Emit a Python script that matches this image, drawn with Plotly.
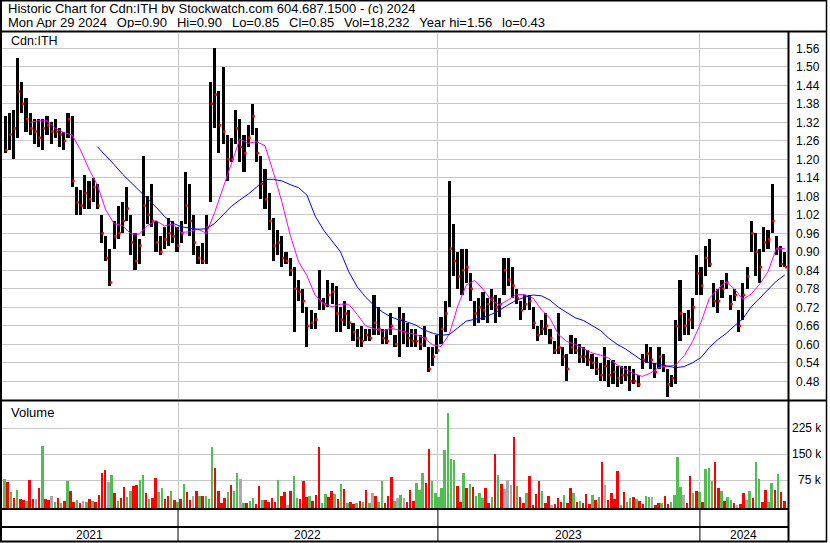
import plotly.graph_objects as go

W, H = 830, 543
FONT = "Liberation Sans, Arial, Helvetica, sans-serif"

# ---------------- text ----------------
header_line1 = "Historic Chart for Cdn:ITH by Stockwatch.com 604.687.1500 - (c) 2024"
header_fields = ["Mon Apr 29 2024", "Op=0.90", "Hi=0.90", "Lo=0.85", "Cl=0.85",
                 "Vol=18,232", "Year hi=1.56", "lo=0.43"]
symbol_label = "Cdn:ITH"
volume_label = "Volume"

# ---------------- price data (one bar = 4 trading days) ----------------
BUCKET_DAYS = 4
price_high = [
    1.34, 1.35, 1.36, 1.53, 1.45, 1.40, 1.35, 1.33, 1.33, 1.33,
    1.34, 1.32, 1.33, 1.30, 1.29, 1.35, 1.34, 1.11, 1.10, 1.15,
    1.13, 1.14, 1.12, 1.02, 0.95, 0.91, 1.00, 1.05, 1.06, 1.11,
    1.02, 0.96, 0.94, 1.21, 1.08, 1.12, 1.00, 0.95, 0.98, 1.01,
    1.00, 0.98, 1.00, 1.16, 1.12, 1.02, 0.92, 0.93, 1.02, 1.45,
    1.56, 1.42, 1.50, 1.28, 1.27, 1.36, 1.33, 1.28, 1.31, 1.38,
    1.30, 1.21, 1.17, 1.09, 1.01, 0.97, 0.95, 0.90, 0.88, 0.85,
    0.81, 0.78, 0.72, 0.71, 0.70, 0.84, 0.75, 0.81, 0.80, 0.79,
    0.72, 0.74, 0.71, 0.67, 0.65, 0.66, 0.65, 0.65, 0.76, 0.72,
    0.65, 0.65, 0.70, 0.63, 0.72, 0.70, 0.67, 0.65, 0.65, 0.63,
    0.66, 0.59, 0.59, 0.63, 0.69, 0.74, 1.13, 0.99, 0.90, 0.91,
    0.91, 0.83, 0.74, 0.75, 0.77, 0.75, 0.78, 0.76, 0.75, 0.88,
    0.88, 0.85, 0.78, 0.74, 0.76, 0.76, 0.72, 0.66, 0.68, 0.70,
    0.65, 0.61, 0.70, 0.59, 0.57, 0.63, 0.62, 0.60, 0.59, 0.58,
    0.57, 0.56, 0.54, 0.59, 0.55, 0.55, 0.53, 0.53, 0.53, 0.53,
    0.52, 0.50, 0.57, 0.60, 0.59, 0.54, 0.59, 0.57, 0.52, 0.50,
    0.68, 0.81, 0.70, 0.71, 0.75, 0.89, 0.85, 0.92, 0.94, 0.80,
    0.78, 0.81, 0.83, 0.76, 0.78, 0.71, 0.80, 0.85, 1.00, 0.96,
    0.91, 0.98, 0.97, 1.12, 0.95, 0.92, 0.90,
]
price_low = [
    1.22, 1.23, 1.20, 1.27, 1.35, 1.29, 1.28, 1.25, 1.24, 1.23,
    1.28, 1.25, 1.27, 1.24, 1.23, 1.27, 1.11, 1.02, 1.02, 1.04,
    1.04, 1.06, 1.04, 0.93, 0.87, 0.79, 0.91, 0.94, 0.96, 1.00,
    0.89, 0.84, 0.86, 0.95, 0.99, 0.98, 0.90, 0.89, 0.91, 0.92,
    0.93, 0.90, 0.93, 0.99, 0.95, 0.89, 0.86, 0.86, 0.86, 1.06,
    1.30, 1.22, 1.25, 1.13, 1.19, 1.25, 1.19, 1.16, 1.24, 1.28,
    1.19, 1.07, 1.04, 0.97, 0.87, 0.89, 0.85, 0.86, 0.82, 0.64,
    0.74, 0.70, 0.59, 0.65, 0.65, 0.71, 0.71, 0.72, 0.73, 0.64,
    0.64, 0.66, 0.65, 0.61, 0.59, 0.59, 0.61, 0.61, 0.63, 0.63,
    0.60, 0.60, 0.63, 0.59, 0.56, 0.60, 0.59, 0.59, 0.59, 0.58,
    0.59, 0.51, 0.53, 0.57, 0.60, 0.64, 0.72, 0.82, 0.78, 0.76,
    0.80, 0.74, 0.66, 0.67, 0.68, 0.67, 0.71, 0.67, 0.69, 0.76,
    0.79, 0.75, 0.73, 0.68, 0.71, 0.71, 0.65, 0.61, 0.63, 0.63,
    0.60, 0.57, 0.57, 0.53, 0.48, 0.57, 0.57, 0.54, 0.54, 0.53,
    0.52, 0.50, 0.48, 0.48, 0.46, 0.47, 0.46, 0.47, 0.48, 0.45,
    0.47, 0.46, 0.52, 0.54, 0.52, 0.49, 0.52, 0.51, 0.43, 0.46,
    0.47, 0.61, 0.63, 0.63, 0.65, 0.76, 0.76, 0.82, 0.85, 0.72,
    0.70, 0.75, 0.78, 0.71, 0.74, 0.64, 0.68, 0.78, 0.90, 0.82,
    0.80, 0.90, 0.91, 0.96, 0.89, 0.85, 0.85,
]
price_close = [
    1.23, 1.28, 1.30, 1.42, 1.38, 1.33, 1.30, 1.29, 1.27, 1.30,
    1.31, 1.29, 1.29, 1.28, 1.26, 1.33, 1.13, 1.06, 1.05, 1.09,
    1.07, 1.11, 1.05, 0.96, 0.88, 0.80, 0.95, 0.96, 1.00, 1.04,
    0.93, 0.87, 0.92, 1.05, 1.02, 1.00, 0.93, 0.90, 0.94, 0.96,
    0.95, 0.92, 0.96, 1.05, 1.00, 0.93, 0.88, 0.87, 0.98, 1.38,
    1.41, 1.31, 1.29, 1.20, 1.20, 1.30, 1.24, 1.22, 1.27, 1.34,
    1.22, 1.12, 1.07, 1.00, 0.92, 0.93, 0.88, 0.87, 0.84, 0.78,
    0.77, 0.74, 0.66, 0.67, 0.68, 0.74, 0.73, 0.76, 0.77, 0.70,
    0.68, 0.70, 0.67, 0.64, 0.62, 0.61, 0.63, 0.62, 0.67, 0.65,
    0.62, 0.61, 0.66, 0.60, 0.68, 0.64, 0.62, 0.61, 0.61, 0.60,
    0.62, 0.52, 0.56, 0.58, 0.65, 0.70, 0.91, 0.87, 0.82, 0.84,
    0.85, 0.78, 0.70, 0.72, 0.71, 0.73, 0.75, 0.72, 0.73, 0.84,
    0.81, 0.79, 0.75, 0.71, 0.73, 0.74, 0.67, 0.63, 0.65, 0.66,
    0.62, 0.58, 0.59, 0.56, 0.52, 0.59, 0.58, 0.56, 0.56, 0.55,
    0.54, 0.52, 0.50, 0.53, 0.50, 0.51, 0.49, 0.50, 0.50, 0.48,
    0.48, 0.47, 0.55, 0.57, 0.55, 0.51, 0.56, 0.53, 0.47, 0.49,
    0.66, 0.70, 0.66, 0.68, 0.72, 0.83, 0.79, 0.88, 0.86, 0.74,
    0.74, 0.78, 0.80, 0.73, 0.76, 0.66, 0.76, 0.82, 0.96, 0.90,
    0.85, 0.93, 0.94, 1.00, 0.91, 0.86, 0.85,
]

# moving averages, read every 2nd price bar
MA_STEP = 2
FAST_START = 6
ma_fast = [
    1.32, 1.325, 1.325, 1.30, 1.287, 1.279, 1.23, 1.168, 1.117, 1.036,
    0.991, 0.985, 0.958, 0.957, 0.985, 1.001, 0.984, 0.99, 0.963, 0.965,
    0.974, 0.96, 1.028, 1.108, 1.187, 1.266, 1.252, 1.257, 1.244, 1.158,
    1.063, 0.955, 0.868, 0.823, 0.758, 0.732, 0.722, 0.73, 0.73, 0.697,
    0.66, 0.651, 0.642, 0.652, 0.646, 0.636, 0.632, 0.62, 0.598, 0.593,
    0.634, 0.725, 0.792, 0.807, 0.779, 0.742, 0.728, 0.744, 0.762, 0.761,
    0.749, 0.711, 0.684, 0.632, 0.609, 0.60, 0.585, 0.572, 0.565, 0.555,
    0.533, 0.519, 0.505, 0.496, 0.507, 0.525, 0.528, 0.533, 0.563, 0.609,
    0.671, 0.749, 0.779, 0.803, 0.779, 0.746, 0.763, 0.795, 0.836, 0.911,
    0.911,
]
SLOW_START = 22
ma_slow = [
    1.241, 1.213, 1.183, 1.152, 1.125, 1.10, 1.07, 1.045, 1.015, 0.993,
    0.981, 0.976, 0.973, 0.975, 0.992, 1.02, 1.048, 1.068, 1.087, 1.11,
    1.135, 1.135, 1.13, 1.118, 1.108, 1.084, 1.015, 0.97, 0.934, 0.90,
    0.835, 0.786, 0.753, 0.726, 0.705, 0.689, 0.679, 0.672, 0.662, 0.646,
    0.636, 0.629, 0.632, 0.653, 0.675, 0.681, 0.686, 0.697, 0.711, 0.728,
    0.743, 0.753, 0.76, 0.757, 0.743, 0.72, 0.703, 0.686, 0.677, 0.662,
    0.645, 0.62, 0.60, 0.585, 0.565, 0.547, 0.54, 0.535, 0.528, 0.524,
    0.528, 0.54, 0.557, 0.59, 0.615, 0.635, 0.66, 0.683, 0.722, 0.749,
    0.775, 0.805, 0.825,
]

# ---------------- volume (one bar = 3 trading days, thousands) ----------------
VOL_BUCKET_DAYS = 3
vol_k = [
    79, 71, 40, 25, 47, 22, 18, 15, 76, 20,
    21, 52, 174, 20, 18, 31, 12, 25, 10, 15,
    73, 44, 13, 18, 10, 15, 12, 20, 15, 12,
    33, 95, 105, 71, 90, 37, 15, 25, 57, 28,
    44, 59, 62, 76, 90, 37, 20, 25, 83, 40,
    54, 22, 30, 44, 18, 12, 20, 64, 40, 18,
    31, 44, 30, 30, 30, 20, 172, 111, 44, 9,
    23, 40, 61, 44, 95, 79, 9, 9, 15, 23,
    7, 59, 18, 18, 13, 23, 12, 75, 30, 40,
    4, 44, 87, 23, 21, 73, 27, 30, 15, 33,
    170, 9, 36, 27, 44, 35, 21, 64, 50, 9,
    12, 7, 10, 15, 13, 46, 9, 38, 30, 12,
    73, 9, 30, 85, 15, 23, 33, 23, 12, 46,
    15, 66, 47, 95, 66, 165, 73, 37, 28, 52,
    162, 268, 136, 134, 59, 13, 95, 52, 63, 57,
    30, 37, 23, 52, 9, 28, 151, 90, 64, 50,
    75, 61, 200, 59, 27, 9, 37, 87, 4, 35,
    73, 44, 10, 30, 4, 7, 23, 12, 33, 10,
    52, 37, 13, 15, 10, 35, 6, 33, 18, 27,
    127, 61, 18, 37, 21, 102, 4, 40, 13, 23,
    27, 20, 15, 7, 30, 28, 27, 4, 10, 9,
    30, 8, 12, 33, 142, 56, 33, 9, 87, 37,
    44, 40, 13, 108, 111, 73, 127, 52, 44, 15,
    27, 18, 10, 4, 7, 37, 18, 44, 23, 129,
    79, 13, 46, 13, 68, 47, 93, 40, 15,
]
# r = down, g = up, n = unchanged
vol_dir = ("grgrgrrgrr" "nrgrrngrgr" "grrgrngrgr" "rrrngrgrrg" "grrggrgrrg"
           "grrgrgrgrr" "nrgrgggrrr" "rgrggngrgg" "rrgrrrrgrr" "nrggrrrgrr"
           "rggrrgrgrg" "rrgrgrgnrg" "grrrgngnrr" "rgggrrgggg" "ggggrrgrgr"
           "gggrrgrgrn" "nnrgrrgrrr" "rgrrnrrrgr" "rgrgrrrgrg" "rnrrrrgrgg"
           "rgrrggnrrg" "rrggggnrrg" "rgrgggrrgr" "ggrnrrngrg" "grrggrgrr")

year_labels = ["2021", "2022", "2023", "2024"]
year_start_day = [167, 415, 665]          # trading-day index of first session
price_ticks = [0.48, 0.54, 0.60, 0.66, 0.72, 0.78, 0.84, 0.90, 0.96, 1.02,
               1.08, 1.14, 1.20, 1.26, 1.32, 1.38, 1.44, 1.50, 1.56]
vol_ticks_k = [75, 150, 225]
vol_tick_text = ["75 k", "150 k", "225 k"]

# ---------------- geometry ----------------
def px(x):
    return x / W


def py(y):
    return 1 - y / H


X_LEFT, X_RIGHT = 2, 788
DAY0_PX, DAY_PX = 3.0, 1.048
x_range = [(X_LEFT - DAY0_PX) / DAY_PX, (X_RIGHT - DAY0_PX) / DAY_PX]
x_at_px0 = (0 - DAY0_PX) / DAY_PX

P_TOP, P_BOT = 33, 399
TICK_REF_PX, TICK_REF_VAL, PX_PER_STEP = 48.3, 1.56, 18.5
p_per_px = 0.06 / PX_PER_STEP
y_range = [TICK_REF_VAL - (P_BOT - TICK_REF_PX) * p_per_px,
           TICK_REF_VAL + (TICK_REF_PX - P_TOP) * p_per_px]

V_TOP, V_BOT = 402, 508
V_ZERO_PX, V_PX_PER_75K = 506.3, 26.0
k_per_px = 75.0 / V_PX_PER_75K
v_range = [-(V_BOT - V_ZERO_PX) * k_per_px * 1000, (V_ZERO_PX - V_TOP) * k_per_px * 1000]
VOL_BASE = v_range[0]

price_day = [BUCKET_DAYS * i + BUCKET_DAYS / 2 for i in range(len(price_close))]
fast_day = [price_day[FAST_START + MA_STEP * k] for k in range(len(ma_fast))]
slow_day = [price_day[SLOW_START + MA_STEP * k] for k in range(len(ma_slow))]
vol_day = [VOL_BUCKET_DAYS * j + VOL_BUCKET_DAYS / 2 for j in range(len(vol_k))]
dir_color = {"r": "#ff0000", "g": "#4fbf4f", "n": "#aaaaaa"}
vol_colors = [dir_color[c] for c in vol_dir]

fig = go.Figure()
fig.add_trace(go.Bar(
    x=price_day, y=[h - l for h, l in zip(price_high, price_low)], base=price_low,
    width=3.0, marker=dict(color="#000000", line=dict(width=0)),
    xaxis="x", yaxis="y", hoverinfo="skip"))
fig.add_trace(go.Scatter(
    x=[d + 1.2 for d in price_day], y=price_close, mode="markers",
    marker=dict(symbol="square", size=2.5, color="#ff0000", line=dict(width=0)),
    xaxis="x", yaxis="y", hoverinfo="skip"))
fig.add_trace(go.Scatter(
    x=fast_day, y=ma_fast, mode="lines", line=dict(color="#ff00ff", width=1),
    xaxis="x", yaxis="y", hoverinfo="skip"))
fig.add_trace(go.Scatter(
    x=slow_day, y=ma_slow, mode="lines", line=dict(color="#0000ff", width=1),
    xaxis="x", yaxis="y", hoverinfo="skip"))
fig.add_trace(go.Bar(
    x=vol_day, y=[v * 1000 - VOL_BASE for v in vol_k], base=VOL_BASE,
    width=2.4, marker=dict(color=vol_colors, line=dict(width=0)),
    xaxis="x2", yaxis="y2", hoverinfo="skip"))

GRID = "#c8c8c8"
common_x = dict(range=x_range, domain=[px(X_LEFT), px(X_RIGHT)], tickvals=year_start_day,
                showticklabels=False, ticks="", showgrid=True, gridcolor=GRID, gridwidth=1,
                zeroline=False, showline=False, fixedrange=True)

BLACK = "#000000"
shapes = []


def hline(y, x0, x1, w):
    shapes.append(dict(type="line", xref="paper", yref="paper", x0=px(x0), x1=px(x1),
                       y0=py(y), y1=py(y), line=dict(color=BLACK, width=w)))


def vline(x, y0, y1, w):
    shapes.append(dict(type="line", xref="paper", yref="paper", x0=px(x), x1=px(x),
                       y0=py(y0), y1=py(y1), line=dict(color=BLACK, width=w)))


hline(0.75, 0, 827, 1.5)        # frame top
hline(541.5, 0, 827, 2)         # frame bottom
vline(1, 0, 542, 2)             # frame left
vline(826.5, 0, 542, 1.5)       # frame right
hline(31.5, 0, 827, 2)          # under header
vline(788.5, 31.5, 542, 2)      # price/volume scale separator
hline(400.5, 0, 827, 2)         # top of volume panel
hline(509, 0, 788, 2)           # bottom of volume panel
hline(527, 0, 788, 2)           # between date strips
for d in year_start_day:
    shapes.append(dict(type="line", xref="x2", yref="paper", x0=d, x1=d,
                       y0=py(541), y1=py(509), line=dict(color=BLACK, width=1)))

annotations = []


def text(x, y, s, size, anchor="left", xref="paper", yref="paper", box_h=None):
    a = dict(x=x, y=y, xref=xref, yref=yref, text=s, showarrow=False,
             xanchor=anchor, yanchor="middle",
             font=dict(family=FONT, size=size, color=BLACK))
    if box_h:
        a["height"] = box_h
    annotations.append(a)


GAP = "\u00a0\u00a0\u2009"
text(px(6), py(8.7), header_line1, 13, box_h=11)
text(px(6), py(22.6), GAP.join(header_fields), 13, box_h=11)
text(px(8.5), py(41.5), symbol_label, 12.5)
text(px(9), py(413), volume_label, 13)

bounds = [x_at_px0] + year_start_day + [x_range[1]]
for k, lab in enumerate(year_labels):
    text((bounds[k] + bounds[k + 1]) / 2, py(534.5), lab, 12, anchor="center", xref="x2",
         box_h=12)
for v, lab in zip(vol_ticks_k, vol_tick_text):
    text(px(824), v * 1000, lab, 12, anchor="right", yref="y2")

fig.update_layout(
    width=W, height=H, autosize=False,
    margin=dict(l=0, r=0, t=0, b=0, pad=0),
    paper_bgcolor="#ffffff", plot_bgcolor="#ffffff",
    showlegend=False, hovermode=False, barmode="overlay", bargap=0,
    xaxis=dict(anchor="y", **common_x),
    xaxis2=dict(anchor="y2", matches="x", **common_x),
    yaxis=dict(anchor="x", domain=[py(P_BOT), py(P_TOP)], range=y_range, side="right",
               tickvals=price_ticks, ticktext=[f"{t:.2f}" for t in price_ticks],
               ticks="", ticklabelstandoff=7, showgrid=True, gridcolor=GRID, gridwidth=1,
               zeroline=False, showline=False, fixedrange=True,
               tickfont=dict(family=FONT, size=12, color=BLACK)),
    yaxis2=dict(anchor="x2", domain=[py(V_BOT), py(V_TOP)], range=v_range, side="right",
                tickvals=[v * 1000 for v in vol_ticks_k], showticklabels=False, ticks="",
                showgrid=True, gridcolor=GRID, gridwidth=1, zeroline=False,
                showline=False, fixedrange=True),
    shapes=shapes, annotations=annotations,
)

fig.write_html("out.html", config={"displayModeBar": False, "staticPlot": True},
               post_script="document.body.style.margin='0';document.body.style.padding='0';")
